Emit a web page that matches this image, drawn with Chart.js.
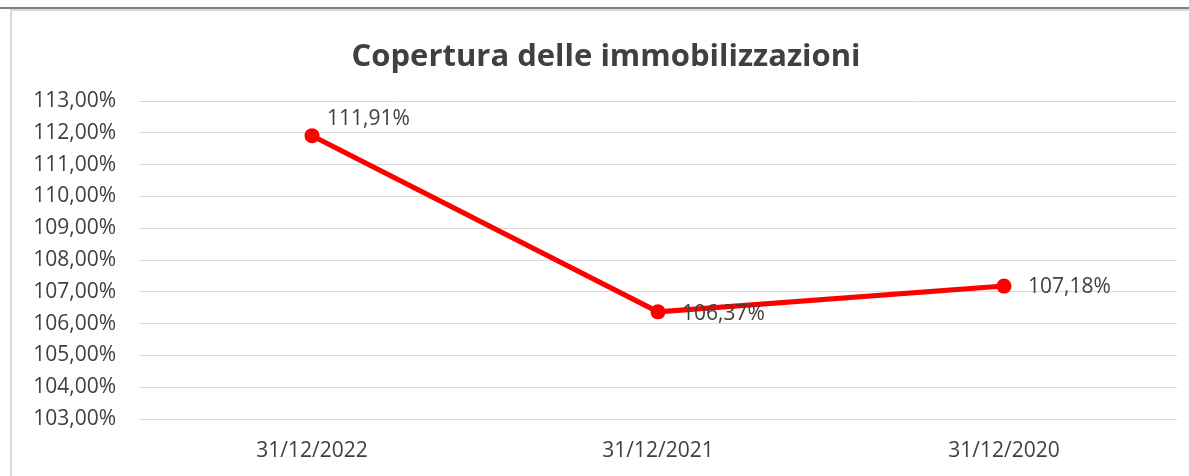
<!DOCTYPE html>
<html>
<head>
<meta charset="utf-8">
<script src="https://cdn.jsdelivr.net/npm/chart.js@4.4.1/dist/chart.umd.min.js"></script>
<style>
  html, body { margin: 0; padding: 0; background: #fff; }
  #wrap { width: 1189px; height: 476px; position: relative; }
</style>
</head>
<body>
<div id="wrap"><canvas id="c" width="1189" height="476"></canvas></div>
<script>
const categories = ['31/12/2022', '31/12/2021', '31/12/2020'];
const values = [111.91, 106.37, 107.18];
const yMin = 103;
const yMax = 113;
const titleText = 'Copertura delle immobilizzazioni';

const FONT = '"Open Sans", sans-serif';
const TEXT = '#404040';

function fmt(v) {
  return v.toFixed(2).replace('.', ',') + '%';
}

const framePlugin = {
  id: 'frame',
  beforeDraw(chart) {
    const ctx = chart.ctx;
    ctx.save();
    ctx.fillStyle = '#ffffff';
    ctx.fillRect(0, 0, chart.width, chart.height);
    ctx.fillStyle = '#d9d9d9';
    ctx.fillRect(10, 9, chart.width - 10, 2);
    ctx.fillRect(10, 9, 2, chart.height - 9);
    ctx.fillStyle = '#808080';
    ctx.fillRect(0, 7, chart.width, 2);
    ctx.restore();
  },
  afterDraw(chart) {
    const ctx = chart.ctx;
    ctx.save();
    ctx.font = 'bold 31px ' + FONT;
    ctx.fillStyle = TEXT;
    ctx.textAlign = 'center';
    ctx.textBaseline = 'middle';
    ctx.fillText(titleText, 606, 57);
    // data labels
    const offsets = [[15, -17], [24, 2], [24, 1]];
    const meta = chart.getDatasetMeta(0);
    ctx.font = '21px ' + FONT;
    ctx.textAlign = 'left';
    meta.data.forEach((pt, i) => {
      const o = offsets[i] || [15, 0];
      ctx.fillText(fmt(values[i]), pt.x + o[0], pt.y + o[1]);
    });
    ctx.restore();
  }
};

new Chart(document.getElementById('c'), {
  type: 'line',
  data: {
    labels: categories,
    datasets: [{
      data: values,
      borderColor: '#ff0000',
      backgroundColor: '#ff0000',
      borderWidth: 5,
      pointRadius: 7.5,
      pointHoverRadius: 7.5,
      pointBorderWidth: 0,
      tension: 0
    }]
  },
  options: {
    responsive: false,
    animation: false,
    events: [],
    layout: { padding: { top: 101, right: 12, bottom: 0, left: 0 } },
    plugins: {
      legend: { display: false },
      title: { display: false },
      tooltip: { enabled: false }
    },
    scales: {
      x: {
        offset: true,
        grid: { display: false, drawTicks: false },
        border: { display: false },
        ticks: { color: TEXT, font: { family: FONT, size: 21 }, padding: 19, maxRotation: 0 },
        afterFit(scale) { scale.height = 57; }
      },
      y: {
        min: yMin,
        max: yMax,
        grid: { color: '#d9d9d9', lineWidth: 1, drawTicks: false },
        border: { display: false },
        ticks: {
          stepSize: 1,
          color: TEXT,
          font: { family: FONT, size: 21 },
          padding: 23,
          callback: (v) => fmt(v)
        },
        afterFit(scale) { scale.width = 139; }
      }
    }
  },
  plugins: [framePlugin]
});
</script>
</body>
</html>
